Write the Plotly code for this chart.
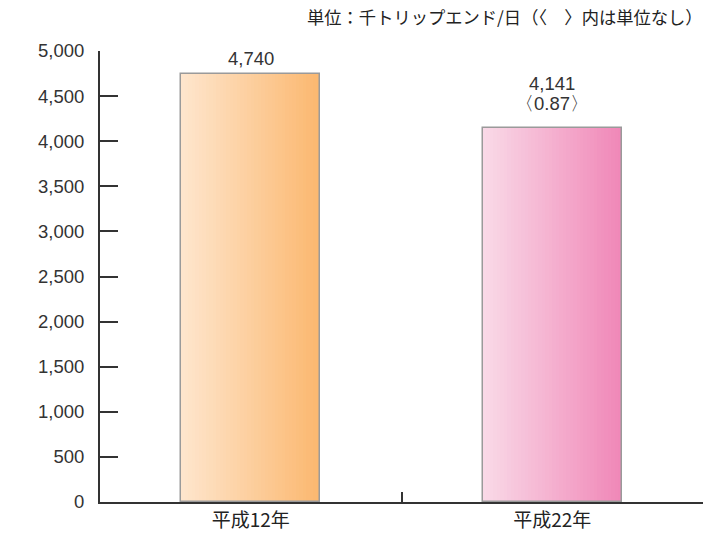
import plotly.graph_objects as go

categories = ["平成12年", "平成22年"]
values = [4740, 4141]
value_labels = ["4,740", "4,141"]
ratio_labels = ["", "〈0.87〉"]
left_colors = [(254, 229, 204), (249, 217, 231)]
right_colors = [(251, 184, 112), (240, 136, 184)]
y_ticks = [0, 500, 1000, 1500, 2000, 2500, 3000, 3500, 4000, 4500, 5000]
unit_note = "単位：千トリップエンド/日（〈　〉内は単位なし）"

BAR_W = 0.46
N = 40
NUM_FONT = dict(family="Liberation Sans, Arial, sans-serif", size=18.5, color="#333")
fig = go.Figure()
for ci, cat in enumerate(categories):
    for k in range(N):
        t = k / (N - 1)
        c = tuple(round(left_colors[ci][j] + (right_colors[ci][j] - left_colors[ci][j]) * t) for j in range(3))
        fig.add_trace(go.Bar(
            x=[cat], y=[values[ci]],
            width=BAR_W / N * 1.05, offset=-BAR_W / 2 + BAR_W * k / N,
            marker=dict(color="rgb(%d,%d,%d)" % c, line=dict(width=0)),
            hoverinfo="skip", showlegend=False,
        ))
# outline
fig.add_trace(go.Bar(
    x=categories, y=values, width=BAR_W, offset=-BAR_W / 2,
    marker=dict(color="rgba(0,0,0,0)", line=dict(color="#9a9a9a", width=1.5)),
    showlegend=False, hoverinfo="skip",
))

for ci, cat in enumerate(categories):
    has_ratio = bool(ratio_labels[ci])
    if has_ratio:
        fig.add_annotation(x=cat, y=values[ci], text=ratio_labels[ci], showarrow=False,
                           yanchor="bottom", yshift=12, font=NUM_FONT)
    fig.add_annotation(x=cat, y=values[ci], text=value_labels[ci], showarrow=False,
                       yanchor="bottom", yshift=32 if has_ratio else 3, font=NUM_FONT)

fig.add_annotation(xref="paper", yref="paper", x=1.0, y=1.0, xanchor="right", yanchor="bottom",
                   xshift=2, yshift=20, text=unit_note, showarrow=False,
                   font=dict(family="Noto Sans CJK JP", size=17.3, color="#222"))

fig.update_layout(
    width=706, height=538,
    margin=dict(l=100, r=3, t=51, b=36, autoexpand=False),
    barmode="overlay", bargap=0,
    plot_bgcolor="white", paper_bgcolor="white",
    showlegend=False,
)
fig.update_xaxes(
    type="category", showline=True, linecolor="#333", linewidth=2,
    ticks="inside", tickson="boundaries", ticklen=10, tickwidth=2, tickcolor="#333",
    showgrid=False, range=[-0.5, 1.5],
    tickfont=dict(family="Noto Sans CJK JP", size=19, color="#222"),
)
fig.update_yaxes(
    range=[0, 5000], tickvals=y_ticks, tickformat=",d",
    showline=True, linecolor="#333", linewidth=2,
    ticks="inside", ticklen=18, tickwidth=2, tickcolor="#333",
    showgrid=False, zeroline=False, ticklabelstandoff=10,
    tickfont=NUM_FONT,
)
fig.write_html("out.html", config={"displayModeBar": False},
               post_script="document.body.style.margin='0';")
